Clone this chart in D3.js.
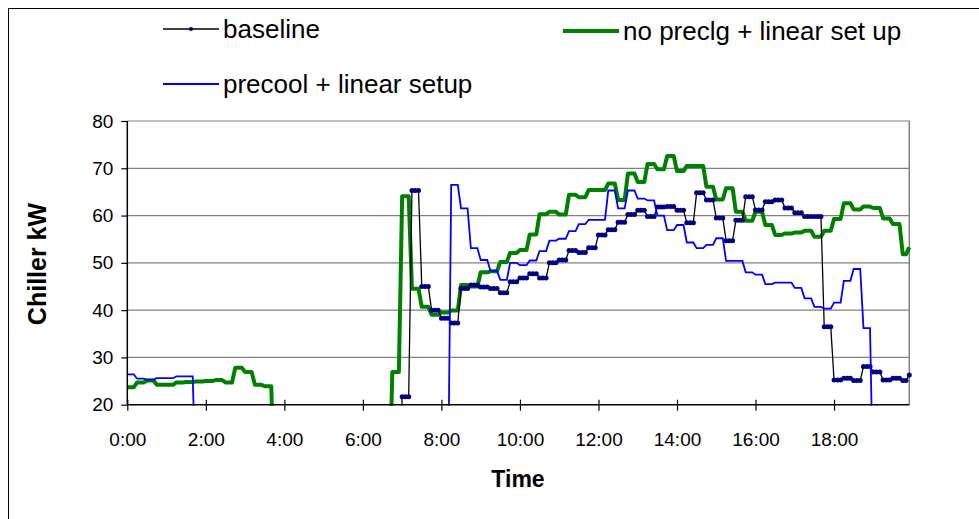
<!DOCTYPE html>
<html><head><meta charset="utf-8">
<script src="https://cdn.jsdelivr.net/npm/d3@7"></script>
<style>body{margin:0;background:#fff}svg{display:block}text{font-family:"Liberation Sans",Arial,sans-serif}</style>
</head><body>
<script>
// time categories: 5-minute samples from 0:00 to 19:55 (minutes)
const minutes = d3.range(0, 1200, 5);
const tickMinutes = [0,120,240,360,480,600,720,840,960,1080];
const tickLabels = ["0:00","2:00","4:00","6:00","8:00","10:00","12:00","14:00","16:00","18:00"];
const yTicks = [20,30,40,50,60,70,80];
const seriesNames = ["baseline","no preclg + linear set up","precool + linear setup"];

const baseline = [
0,0,0,0,0,0,0,0,0,0,0,0,
0,0,0,0,0,0,0,0,0,0,0,0,
0,0,0,0,0,0,0,0,0,0,0,0,
0,0,0,0,0,0,0,0,0,0,0,0,
0,0,0,0,0,0,0,0,0,0,0,0,
0,0,0,0,0,0,0,0,0,0,0,0,
0,0,0,0,0,0,0,0,0,0,0,0,
21.7,21.7,21.7,65.3,65.3,65.3,45,45,45,40,40,40,
38.3,38.3,38.3,37.3,37.3,37.3,44.6,44.6,44.6,45.3,45.3,45.3,
44.9,44.9,44.9,44.6,44.6,44.6,43.7,43.7,43.7,46,46,46,
46.8,46.8,46.8,47.7,47.7,47.7,46.8,46.8,46.8,50,50,50,
50.6,50.6,50.6,52.6,52.6,52.6,52.2,52.2,52.2,53.2,53.2,53.2,
55.9,55.9,55.9,57,57,57,58.6,58.6,58.6,60.2,60.2,60.2,
61.1,61.1,61.1,59.8,59.8,59.8,61.8,61.8,61.8,61.9,61.9,61.9,
61.1,61.1,61.1,58.5,58.5,58.5,64.8,64.8,64.8,63.3,63.3,63.3,
59.5,59.5,59.5,54.7,54.7,54.7,59,59,59,64,64,64,
61.2,61.2,61.2,62.9,62.9,62.9,63.3,63.3,63.3,61.6,61.6,61.6,
60.6,60.6,60.6,59.8,59.8,59.8,59.8,59.8,59.8,36.5,36.5,36.5,
25.2,25.2,25.2,25.6,25.6,25.6,25.1,25.1,25.1,28.1,28.1,28.1,
26.9,26.9,26.9,25.2,25.2,25.2,25.6,25.6,25.6,25.1,25.1,26.3
];

const noPreclg = [
23.7,23.7,23.7,24.7,24.7,24.7,25.1,25.1,25.1,24.2,24.2,24.2,
24.2,24.2,24.2,24.7,24.7,24.7,24.8,24.8,24.8,24.9,24.9,24.9,
25,25,25,25.2,25.2,25.2,24.7,24.7,24.7,27.8,27.8,27.8,
26.9,26.9,26.9,24.2,24.2,24.2,23.9,23.9,23.9,0,0,0,
0,0,0,0,0,0,0,0,0,0,0,0,
0,0,0,0,0,0,0,0,0,0,0,0,
0,0,0,0,0,0,0,0,0,26.9,26.9,26.9,
64.1,64.1,64.1,44.5,44.5,44.5,40.7,40.7,40.7,39,39,39,
39.5,39.5,39.5,39.9,39.9,39.9,45.3,45.3,45.3,45,45,45,
48,48,48,48.2,48.2,48.2,50.2,50.2,50.2,52.1,52.1,52.1,
52.7,52.7,52.7,56,56,56,60.3,60.3,60.3,60.8,60.8,60.8,
60.2,60.2,60.2,64.4,64.4,64.4,63.9,63.9,63.9,65.4,65.4,65.4,
65.4,65.4,65.4,66.8,66.8,66.8,63.3,63.3,63.3,68.9,68.9,68.9,
67.1,67.1,67.1,70.9,70.9,70.9,69.8,69.8,69.8,72.6,72.6,72.6,
69.4,69.4,69.4,70.5,70.5,70.5,70.5,70.5,70.5,66.1,66.1,66.1,
63.4,63.4,63.4,65.8,65.8,65.8,60.8,60.8,60.8,58.9,58.9,58.9,
60.8,60.8,60.8,58,58,58,55.9,55.9,55.9,56.2,56.2,56.2,
56.4,56.4,56.4,56.8,56.8,56.8,55.5,55.5,55.5,56.8,56.8,56.8,
59.3,59.3,59.3,62.6,62.6,62.6,61.3,61.3,61.3,61.9,61.9,61.9,
61.6,61.6,61.6,59.4,59.4,59.4,58.2,58.2,58.2,51.8,51.8,53.3
];

const precool = [
26.4,26.4,26.4,25.5,25.5,25.5,25.3,25.3,25.3,25.6,25.6,25.6,
25.6,25.6,25.6,26,26,26,26,26,26,0,0,0,
0,0,0,0,0,0,0,0,0,0,0,0,
0,0,0,0,0,0,0,0,0,0,0,0,
0,0,0,0,0,0,0,0,0,0,0,0,
0,0,0,0,0,0,0,0,0,0,0,0,
0,0,0,0,0,0,0,0,0,0,0,0,
0,0,0,0,0,0,0,0,0,0,0,0,
0,0,0,66.5,66.5,66.5,61.5,61.5,61.5,53.1,53.1,53.1,
50.6,50.6,50.6,48.3,48.3,48.3,46.4,46.4,46.4,50,50,50,
49.5,49.5,49.5,50.5,50.5,50.5,52.5,52.5,52.5,54.7,54.7,54.7,
55.1,55.1,55.1,56.7,56.7,56.7,58.2,58.2,58.2,59.1,59.1,59.1,
59.1,59.1,59.1,65.3,65.3,65.3,61.5,61.5,61.5,65.3,65.3,65.3,
63.6,63.6,63.6,63.2,63.2,63.2,60,60,60,56.9,56.9,56.9,
58,58,58,54.3,54.3,54.3,53.1,53.1,53.1,53.8,53.8,53.8,
55.2,55.2,55.2,50.4,50.4,50.4,50.4,50.4,50.4,48,48,48,
47.5,47.5,47.5,45.5,45.5,45.5,45.8,45.8,45.8,45.8,45.8,45.8,
44.7,44.7,44.7,42.5,42.5,42.5,40.7,40.7,40.7,40.3,40.3,40.3,
41.6,41.6,41.6,46.2,46.2,46.2,48.7,48.7,48.7,36.2,36.2,36.2,
0,0,0,0,0,0,0,0,0,0,0,0
];

const W = 979, H = 519;
const svg = d3.select("body").append("svg").attr("width", W).attr("height", H);
svg.append("rect").attr("width", W).attr("height", H).attr("fill", "#fff");
// chart frame
svg.append("rect").attr("x", 8.5).attr("y", 8.5).attr("width", W + 20).attr("height", H + 20)
  .attr("fill", "none").attr("stroke", "#000").attr("stroke-width", 1);

const x = d3.scaleLinear().domain([0, 1195]).range([127.3, 909.3]);
const y = d3.scaleLinear().domain([20, 80]).range([404.7, 121]);
const [x0, x1] = x.range();
const [yb, yt] = y.range();

// gridlines
svg.append("g").selectAll("line").data(yTicks.filter(d => d > 20)).join("line")
  .attr("x1", x0).attr("x2", x1).attr("y1", d => y(d)).attr("y2", d => y(d))
  .attr("stroke", "#808080").attr("stroke-width", 1.2);
// plot border right
svg.append("line").attr("x1", x1).attr("x2", x1).attr("y1", yt).attr("y2", yb)
  .attr("stroke", "#808080").attr("stroke-width", 1.5);

svg.append("clipPath").attr("id", "clip").append("rect")
  .attr("x", 0).attr("y", yt - 5).attr("width", W).attr("height", yb - yt + 6);

const g = svg.append("g").attr("clip-path", "url(#clip)");
const line = d3.line().x((d, i) => x(minutes[i])).y(d => y(d));

g.append("path").datum(noPreclg).attr("d", line).attr("fill", "none")
  .attr("stroke", "#008000").attr("stroke-width", 4).attr("stroke-linejoin", "round");
g.append("path").datum(baseline).attr("d", line).attr("fill", "none")
  .attr("stroke", "#000").attr("stroke-width", 1.3);
g.append("g").selectAll("circle").data(baseline).join("circle")
  .attr("cx", (d, i) => x(minutes[i])).attr("cy", d => y(d)).attr("r", 2.5)
  .attr("fill", "#000080");
g.append("path").datum(precool).attr("d", line).attr("fill", "none")
  .attr("stroke", "#0000ff").attr("stroke-width", 1.8);

// axes
const xAxis = d3.axisBottom(x).tickValues(tickMinutes).tickFormat((d, i) => tickLabels[i]).tickSize(0);
const xg = svg.append("g").attr("transform", `translate(0,${yb})`).call(xAxis);
xg.select(".domain").remove();
xg.selectAll("text").attr("dy", null).attr("y", 41).attr("font-size", 19).attr("fill", "#000")
  .attr("font-family", "Liberation Sans, Arial, sans-serif");
xg.selectAll(".tick").append("line").attr("y1", -5).attr("y2", 6).attr("stroke", "#000").attr("stroke-width", 1.2);
svg.append("line").attr("x1", x0).attr("x2", x1).attr("y1", yb).attr("y2", yb)
  .attr("stroke", "#000").attr("stroke-width", 1.5);

const yAxis = d3.axisLeft(y).tickValues(yTicks).tickSize(6).tickPadding(8);
const yg = svg.append("g").attr("transform", `translate(${x0},0)`).call(yAxis);
yg.select(".domain").remove();
yg.selectAll(".tick line").attr("stroke", "#000").attr("stroke-width", 1.2);
yg.selectAll("text").attr("font-size", 19).attr("fill", "#000")
  .attr("font-family", "Liberation Sans, Arial, sans-serif");
svg.append("line").attr("x1", x0).attr("x2", x0).attr("y1", yt).attr("y2", yb)
  .attr("stroke", "#000").attr("stroke-width", 1.5);

// titles
svg.append("text").attr("x", 518).attr("y", 487).attr("text-anchor", "middle")
  .attr("font-size", 23).attr("font-weight", "bold").text("Time");
svg.append("text").attr("transform", "translate(46,264) rotate(-90)").attr("text-anchor", "middle")
  .attr("font-size", 25).attr("font-weight", "bold").text("Chiller kW");

// legend
const leg = svg.append("g");
const legItems = [
  {name: seriesNames[0], x: 163, y: 29, color: "#000", w: 1.3, marker: true},
  {name: seriesNames[1], x: 563, y: 31, color: "#008000", w: 4, marker: false},
  {name: seriesNames[2], x: 163, y: 84, color: "#0000ff", w: 1.8, marker: false}
];
legItems.forEach(it => {
  leg.append("line").attr("x1", it.x).attr("x2", it.x + 56).attr("y1", it.y).attr("y2", it.y)
    .attr("stroke", it.color).attr("stroke-width", it.w);
  if (it.marker) leg.append("circle").attr("cx", it.x + 28).attr("cy", it.y).attr("r", 2.1).attr("fill", "#000080");
  leg.append("text").attr("x", it.x + 60).attr("y", it.y + 9).attr("font-size", 26).attr("fill", "#000").text(it.name);
});
</script>
</body></html>
